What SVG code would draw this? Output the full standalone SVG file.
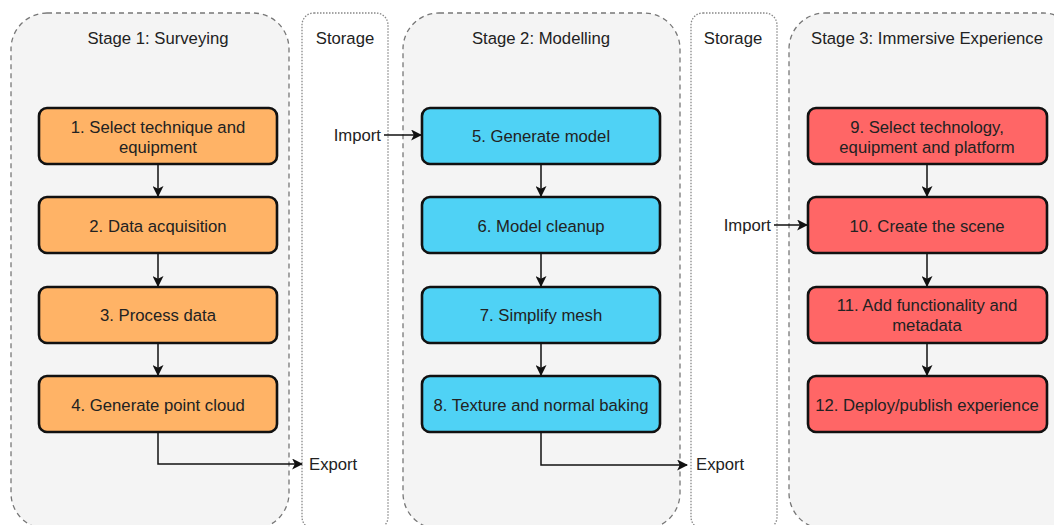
<svg xmlns="http://www.w3.org/2000/svg" width="1054" height="525" viewBox="0 0 1054 525">
<defs>
<style>
.stage{fill:#f4f4f4;stroke:#777;stroke-width:1.3;stroke-dasharray:5 4}
.store{fill:#fff;stroke:#888;stroke-width:1.3;stroke-dasharray:1.5 1.5}
.node rect{stroke:#111;stroke-width:2.6}
.o{fill:#FFB366}.b{fill:#4FD2F5}.r{fill:#FF6666}
text{font-family:"Liberation Sans",Arial,sans-serif;font-size:16.7px;fill:#222;text-anchor:middle;dominant-baseline:middle}
.lbl{text-anchor:start}
.lblr{text-anchor:end}
.conn path{fill:none;stroke:#111;stroke-width:1.5}
</style>
<marker id="ah" viewBox="0 0 10 10" refX="9" refY="5" markerWidth="11" markerHeight="11" markerUnits="userSpaceOnUse" orient="auto">
<path d="M0,0 L10,5 L0,10 L2.5,5 Z" fill="#111"/>
</marker>
</defs>
<rect width="1054" height="525" fill="#fff"/>
<g id="stage1"><rect class="stage" x="11" y="13" width="278" height="516" rx="36"/><text x="158" y="40">Stage 1: Surveying</text></g>
<g id="storage1"><rect class="store" x="302" y="13" width="86" height="516" rx="12"/><text x="345" y="40">Storage</text></g>
<g id="stage2"><rect class="stage" x="403" y="13" width="277" height="516" rx="36"/><text x="541" y="40">Stage 2: Modelling</text></g>
<g id="storage2"><rect class="store" x="691" y="13" width="86" height="516" rx="12"/><text x="733" y="40">Storage</text></g>
<g id="stage3"><rect class="stage" x="789" y="13" width="290" height="516" rx="36"/><text x="927" y="40">Stage 3: Immersive Experience</text></g>

<g id="n1" class="node"><rect class="o" x="39" y="108" width="238" height="56" rx="8"/><text x="158" y="128.5">1. Select technique and</text><text x="158" y="148.5">equipment</text></g>
<g id="n2" class="node"><rect class="o" x="39" y="197" width="238" height="56" rx="8"/><text x="158" y="227.5">2. Data acquisition</text></g>
<g id="n3" class="node"><rect class="o" x="39" y="287" width="238" height="56" rx="8"/><text x="158" y="316.5">3. Process data</text></g>
<g id="n4" class="node"><rect class="o" x="39" y="376" width="238" height="56" rx="8"/><text x="158" y="406.5">4. Generate point cloud</text></g>

<g id="n5" class="node"><rect class="b" x="422" y="108" width="238" height="56" rx="8"/><text x="541" y="137.5">5. Generate model</text></g>
<g id="n6" class="node"><rect class="b" x="422" y="197" width="238" height="56" rx="8"/><text x="541" y="227.5">6. Model cleanup</text></g>
<g id="n7" class="node"><rect class="b" x="422" y="287" width="238" height="56" rx="8"/><text x="541" y="316.5">7. Simplify mesh</text></g>
<g id="n8" class="node"><rect class="b" x="422" y="376" width="238" height="56" rx="8"/><text x="541" y="406.5">8. Texture and normal baking</text></g>

<g id="n9" class="node"><rect class="r" x="808" y="108" width="239" height="56" rx="8"/><text x="927" y="128.5">9. Select technology,</text><text x="927" y="148.5">equipment and platform</text></g>
<g id="n10" class="node"><rect class="r" x="808" y="197" width="239" height="56" rx="8"/><text x="927" y="227.5">10. Create the scene</text></g>
<g id="n11" class="node"><rect class="r" x="808" y="287" width="239" height="56" rx="8"/><text x="927" y="306.5">11. Add functionality and</text><text x="927" y="326.5">metadata</text></g>
<g id="n12" class="node"><rect class="r" x="808" y="376" width="239" height="56" rx="8"/><text x="927" y="406.5">12. Deploy/publish experience</text></g>

<g id="labels">
<text class="lblr" x="381" y="137">Import</text>
<text class="lblr" x="771" y="227">Import</text>
<text class="lbl" x="309" y="466">Export</text>
<text class="lbl" x="696" y="466">Export</text>
</g>

<g id="connectors" class="conn">
<path d="M158,164 V196" marker-end="url(#ah)"/>
<path d="M158,253 V286" marker-end="url(#ah)"/>
<path d="M158,343 V375" marker-end="url(#ah)"/>
<path d="M541,164 V196" marker-end="url(#ah)"/>
<path d="M541,253 V286" marker-end="url(#ah)"/>
<path d="M541,343 V375" marker-end="url(#ah)"/>
<path d="M927,164 V196" marker-end="url(#ah)"/>
<path d="M927,253 V286" marker-end="url(#ah)"/>
<path d="M927,343 V375" marker-end="url(#ah)"/>
<path d="M384,135 H421" marker-end="url(#ah)"/>
<path d="M774,225 H807" marker-end="url(#ah)"/>
<path d="M158,432 V464 H302" marker-end="url(#ah)"/>
<path d="M541,432 V465 H687" marker-end="url(#ah)"/>
</g>
</svg>
